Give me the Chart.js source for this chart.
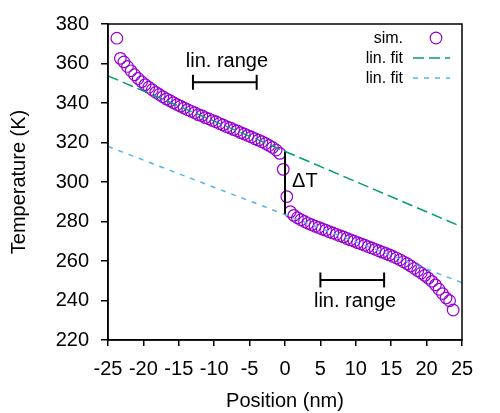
<!DOCTYPE html>
<html>
<head>
<meta charset="utf-8">
<script src="https://cdn.jsdelivr.net/npm/chart.js@4"></script>
<style>
  html, body { margin: 0; padding: 0; background: #ffffff; }
  #wrap { width: 500px; height: 413px; }
</style>
</head>
<body>
<div id="wrap"><canvas id="c" width="500" height="413"></canvas></div>
<script>
// ---- data ----
const positions = [
  -23.75,-23.25,-22.75,-22.25,-21.75,-21.25,-20.75,-20.25,-19.75,-19.25,-18.75,-18.25,
  -17.75,-17.25,-16.75,-16.25,-15.75,-15.25,-14.75,-14.25,-13.75,-13.25,-12.75,-12.25,
  -11.75,-11.25,-10.75,-10.25,-9.75,-9.25,-8.75,-8.25,-7.75,-7.25,-6.75,-6.25,
  -5.75,-5.25,-4.75,-4.25,-3.75,-3.25,-2.75,-2.25,-1.75,-1.25,-0.75,-0.25,
  0.25,0.75,1.25,1.75,2.25,2.75,3.25,3.75,4.25,4.75,5.25,5.75,
  6.25,6.75,7.25,7.75,8.25,8.75,9.25,9.75,10.25,10.75,11.25,11.75,
  12.25,12.75,13.25,13.75,14.25,14.75,15.25,15.75,16.25,16.75,17.25,17.75,
  18.25,18.75,19.25,19.75,20.25,20.75,21.25,21.75,22.25,22.75,23.25,23.75
];
const temperatures = [
  372.8,362.6,360.8,358.5,356.3,354.3,352.4,350.8,349.3,348.0,346.7,345.4,
  344.3,343.2,342.1,341.2,340.2,339.2,338.4,337.5,336.6,335.8,335.1,334.1,
  333.6,332.6,332.0,331.1,330.5,329.6,328.9,328.0,327.4,326.5,325.9,325.0,
  324.3,323.5,322.8,321.9,321.2,320.4,319.5,318.5,317.5,316.2,314.5,306.4,
  292.6,285.0,283.1,281.9,280.9,280.0,279.1,278.4,277.6,277.0,276.2,275.6,
  274.8,274.2,273.5,272.8,272.2,271.4,270.7,270.1,269.3,268.7,268.0,267.3,
  266.6,265.9,265.2,264.5,263.8,263.1,262.3,261.5,260.6,259.6,258.6,257.5,
  256.3,255.1,253.9,252.7,251.3,249.7,247.9,245.7,243.5,241.3,239.9,235.2
];
const fitHotX = [-25, 25];
const fitHotT = [353.75, 277.25];
const fitColdX = [-25, 25];
const fitColdT = [318.0, 249.0];
const rangeHotX = [-13, -4];
const rangeHotT = [350.5, 350.5];
const rangeColdX = [5, 14];
const rangeColdT = [250.4, 250.4];
const deltaX = [0, 0];
const deltaT = [315.5, 283.5];
const legendLabels = ['sim.', 'lin. fit', 'lin. fit'];
const xTicks = [-25, -20, -15, -10, -5, 0, 5, 10, 15, 20, 25];
const yTicks = [220, 240, 260, 280, 300, 320, 340, 360, 380];
const annotationTexts = ['lin. range', 'lin. range', '\u0394T'];

// ---- helpers ----
const pts = (xs, ys) => xs.map((x, i) => ({ x: x, y: ys[i] }));
const FONT = "'Liberation Sans', Arial, Helvetica, sans-serif";
const PURPLE = '#9400d3';
const GREEN = '#009e73';
const BLUE = '#56b4e9';

const annotations = [
  { text: annotationTexts[0], x: -8.2, y: 358.4, align: 'center', size: 20 },
  { text: annotationTexts[1], x: 9.9, y: 236.7, align: 'center', size: 20 },
  { text: annotationTexts[2], x: 1.0, y: 300.5, align: 'left', size: 20, middle: true }
];

const boxPlugin = {
  id: 'box',
  afterDatasetsDraw(chart) {
    const { ctx, chartArea: a } = chart;
    ctx.save();
    ctx.strokeStyle = '#000';
    ctx.lineWidth = 1.5;
    ctx.strokeRect(a.left, a.top, a.right - a.left, a.bottom - a.top);
    ctx.restore();
  }
};

const textPlugin = {
  id: 'texts',
  afterDatasetsDraw(chart) {
    const { ctx, scales } = chart;
    ctx.save();
    ctx.fillStyle = '#000';
    annotations.forEach(an => {
      ctx.font = an.size + 'px ' + FONT;
      ctx.textAlign = an.align;
      ctx.textBaseline = an.middle ? 'middle' : 'alphabetic';
      ctx.fillText(an.text, scales.x.getPixelForValue(an.x), scales.y.getPixelForValue(an.y));
    });
    ctx.restore();
  }
};

const legendPlugin = {
  id: 'customLegend',
  afterDatasetsDraw(chart) {
    const { ctx } = chart;
    const rows = [38, 58, 78];
    const textRight = 403;
    const s0 = 413, s1 = 450;
    ctx.save();
    ctx.font = '16px ' + FONT;
    ctx.textAlign = 'right';
    ctx.textBaseline = 'middle';
    ctx.fillStyle = '#000';
    chart.data.datasets.filter(d => d.legendRow !== undefined).forEach(d => {
      const y = rows[d.legendRow];
      ctx.fillText(d.label, textRight, y + 1);
      if (d.legendRow === 0) {
        ctx.beginPath();
        ctx.strokeStyle = d.borderColor;
        ctx.lineWidth = d.borderWidth;
        ctx.arc(436, y, d.pointRadius, 0, Math.PI * 2);
        ctx.stroke();
      } else {
        ctx.beginPath();
        ctx.strokeStyle = d.borderColor;
        ctx.lineWidth = d.borderWidth;
        ctx.setLineDash(d.borderDash);
        ctx.moveTo(s0, y);
        ctx.lineTo(s1, y);
        ctx.stroke();
        ctx.setLineDash([]);
      }
    });
    ctx.restore();
  }
};

new Chart(document.getElementById('c'), {
  type: 'scatter',
  data: {
    datasets: [
      {
        label: legendLabels[1], legendRow: 1, type: 'line',
        data: pts(fitHotX, fitHotT),
        borderColor: GREEN, borderWidth: 1.5, borderDash: [11, 5],
        pointRadius: 0, fill: false
      },
      {
        label: legendLabels[2], legendRow: 2, type: 'line',
        data: pts(fitColdX, fitColdT),
        borderColor: BLUE, borderWidth: 1.5, borderDash: [5, 6],
        pointRadius: 0, fill: false
      },
      {
        label: 'range1', type: 'line', data: pts(rangeHotX, rangeHotT),
        borderColor: '#000', borderWidth: 2, fill: false,
        pointStyle: 'line', rotation: 90, pointRadius: 7.5,
        pointBorderColor: '#000', pointBorderWidth: 2
      },
      {
        label: 'range2', type: 'line', data: pts(rangeColdX, rangeColdT),
        borderColor: '#000', borderWidth: 2, fill: false,
        pointStyle: 'line', rotation: 90, pointRadius: 7.5,
        pointBorderColor: '#000', pointBorderWidth: 2
      },
      {
        label: 'delta', type: 'line', data: pts(deltaX, deltaT),
        borderColor: '#000', borderWidth: 2, fill: false, pointRadius: 0
      },
      {
        label: legendLabels[0], legendRow: 0,
        data: pts(positions, temperatures),
        showLine: false,
        pointStyle: 'circle', pointRadius: 5.8,
        borderColor: PURPLE, backgroundColor: 'rgba(0,0,0,0)', borderWidth: 1.2,
        pointHoverRadius: 5.8
      }
    ]
  },
  options: {
    responsive: false,
    animation: false,
    events: [],
    layout: { padding: { top: 24, right: 38, left: 0, bottom: 0 } },
    plugins: { legend: { display: false }, tooltip: { enabled: false } },
    scales: {
      x: {
        type: 'linear', min: -25, max: 25,
        afterBuildTicks: s => { s.ticks = xTicks.map(v => ({ value: v })); },
        afterFit: s => { s.height = 73; },
        grid: { drawOnChartArea: false, color: '#000', tickLength: 6, lineWidth: 1.5 },
        border: { color: '#000', width: 1.5 },
        ticks: { color: '#000', font: { family: FONT, size: 20 }, padding: 11, maxRotation: 0, autoSkip: false },
        title: { display: true, text: 'Position (nm)', color: '#000', font: { family: FONT, size: 20 }, padding: { top: 8, bottom: 0 } }
      },
      y: {
        type: 'linear', min: 220, max: 380,
        afterBuildTicks: s => { s.ticks = yTicks.map(v => ({ value: v })); },
        afterFit: s => { s.width = 108; },
        grid: { drawOnChartArea: false, color: '#000', tickLength: 7, lineWidth: 1.5 },
        border: { color: '#000', width: 1.5 },
        ticks: { color: '#000', font: { family: FONT, size: 20 }, padding: 12, autoSkip: false },
        title: { display: true, text: 'Temperature (K)', color: '#000', font: { family: FONT, size: 20 }, padding: { top: 7, bottom: 0 } }
      }
    }
  },
  plugins: [boxPlugin, textPlugin, legendPlugin]
});
</script>
</body>
</html>
